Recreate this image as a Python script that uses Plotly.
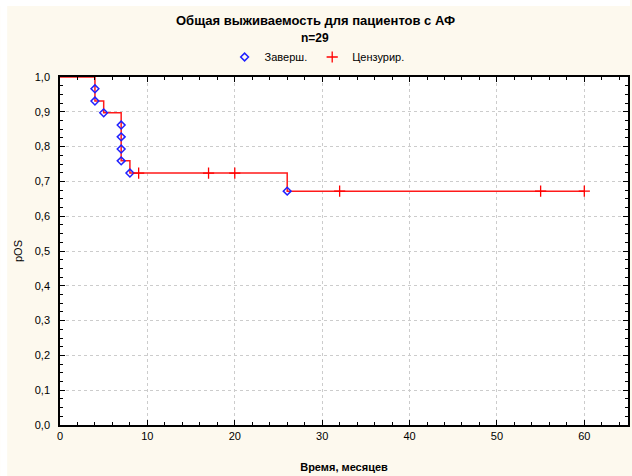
import plotly.graph_objects as go

# Kaplan-Meier step curve (time in months, survival probability)
step_time = [0, 4, 4, 5, 7, 7, 7, 7, 8, 26, 60]
step_surv = [1.0, 0.966, 0.931, 0.897, 0.862, 0.828, 0.793, 0.759, 0.724, 0.672, 0.672]

# Completed (event) observations
event_time = [4, 4, 5, 7, 7, 7, 7, 8, 26]
event_surv = [0.966, 0.931, 0.897, 0.862, 0.828, 0.793, 0.759, 0.724, 0.672]

# Censored observations
cens_time = [9, 17, 20, 32, 55, 60]
cens_surv = [0.724, 0.724, 0.724, 0.672, 0.672, 0.672]

x_ticks = [0, 10, 20, 30, 40, 50, 60]
y_ticks = [0.0, 0.1, 0.2, 0.3, 0.4, 0.5, 0.6, 0.7, 0.8, 0.9, 1.0]

FONT = "Liberation Sans, Arial, sans-serif"
CREAM = "#fdf9ee"

fig = go.Figure()

fig.add_trace(go.Scatter(
    x=step_time, y=step_surv, mode="lines", line_shape="hv",
    line=dict(color="#ff1a1a", width=1.5), showlegend=False, hoverinfo="skip",
))
fig.add_trace(go.Scatter(
    x=event_time, y=event_surv, mode="markers", name="Заверш.",
    marker=dict(symbol="diamond-open", size=6, color="#2020ff",
                line=dict(color="#2020ff", width=1.5)),
))
fig.add_trace(go.Scatter(
    x=cens_time, y=cens_surv, mode="markers", name="Цензурир.",
    marker=dict(symbol="cross-thin-open", size=8,
                line=dict(color="#ff0000", width=1.3), color="#ff0000"),
))

axis_common = dict(
    showline=True, linecolor="black", linewidth=1.5, mirror="ticks",
    ticks="inside", ticklen=5, tickcolor="black", tickwidth=1,
    showgrid=True, gridcolor="#cccccc", griddash="dot", gridwidth=1,
    zeroline=False, tickfont=dict(family=FONT, size=11, color="black"),
)

fig.update_xaxes(
    range=[0, 65], tickvals=x_ticks,
    minor=dict(dtick=2, ticks="inside", ticklen=3, tickcolor="black", showgrid=False),
    title=dict(text="<b>Время, месяцев</b>", font=dict(family=FONT, size=11, color="black"),
               standoff=22),
    **axis_common,
)
fig.update_yaxes(
    range=[0, 1.0], tickvals=y_ticks, tickformat=".1f",
    minor=dict(dtick=0.025, ticks="inside", ticklen=3, tickcolor="black", showgrid=False),
    title=dict(text="pOS", font=dict(family=FONT, size=11, color="black"), standoff=10),
    ticklabelstandoff=6,
    **axis_common,
)

fig.add_annotation(text="<b>Общая выживаемость для пациентов с АФ</b>", xref="paper", yref="paper",
                   x=(316 - 60) / 570, y=(425 - 20) / 348, showarrow=False,
                   xanchor="center", yanchor="middle",
                   font=dict(family=FONT, size=13, color="black"))
fig.add_annotation(text="<b>n=29</b>", xref="paper", yref="paper",
                   x=(316 - 60) / 570, y=(425 - 38) / 348, showarrow=False,
                   xanchor="center", yanchor="middle",
                   font=dict(family=FONT, size=12, color="black"))

# white strips framing the cream panel
fig.add_shape(type="rect", xref="paper", yref="paper", layer="above",
              x0=-60 / 570, x1=(7 - 60) / 570, y0=-51 / 348, y1=(425 + 77) / 348,
              fillcolor="white", line=dict(width=0))
fig.add_shape(type="rect", xref="paper", yref="paper", layer="above",
              x0=-60 / 570, x1=(632 - 60) / 570, y0=(425 - 6) / 348, y1=(425 + 77) / 348,
              fillcolor="white", line=dict(width=0))

fig.update_layout(
    width=632, height=476,
    margin=dict(l=60, r=2, t=77, b=51),
    paper_bgcolor=CREAM, plot_bgcolor="white",
    separators=", ",
    font=dict(family=FONT, size=11, color="black"),
    legend=dict(orientation="h", x=(318 - 60) / 570, xanchor="center", y=(425 - 57) / 348,
                yanchor="middle", bgcolor="rgba(0,0,0,0)", font=dict(family=FONT, size=11),
                itemwidth=30, tracegroupgap=0),
)

fig.write_html("out.html")
